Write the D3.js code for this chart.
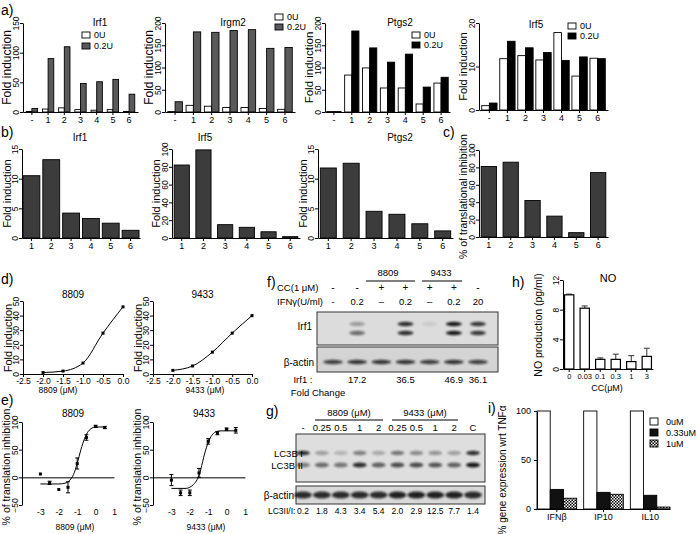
<!DOCTYPE html>
<html><head><meta charset="utf-8">
<script src="https://cdn.jsdelivr.net/npm/d3@7"></script>
<style>
body{margin:0;background:#fff;}
svg{font-family:"Liberation Sans",Arial,sans-serif;}
</style></head><body>
<svg id="c" width="700" height="534"></svg>
<script>
// ---------- DATA ----------
const aCats = ["-","1","2","3","4","5","6"];
const aSeries = ["0U","0.2U"];
const irf1_0U  = [1,5,7,4,3,4,1];
const irf1_02U = [6,90,110,48,51,55,30];
const irgm2_0U  = [1,15,13,10,10,8,6];
const irgm2_02U = [23,180,179,183,185,143,145];
const ptgs2_0U  = [1,83,99,54,54,18,65];
const ptgs2_02U = [1,182,144,112,130,56,78];
const irf5_0U  = [1,11.8,12.5,11.5,17.8,7.8,11.9];
const irf5_02U = [1.6,15.8,14.3,13.2,11.4,12.2,11.8];

const bCats = ["1","2","3","4","5","6"];
const bIrf1  = [10.5,13.2,4.2,3.3,2.5,1.3];
const bIrf5  = [82,99,15,12,7,1.5];
const bPtgs2 = [11.8,12.6,4.5,4.0,2.4,1.2];
const cInhib = [81,86,42,24,5,74];

const dDose  = [-2,-1.5,-1,-0.5,0];
const d8809  = [1,2,7.5,28,46];
const d9433  = [2.5,5.5,15,28,40];

const eDose    = [-3,-2.5,-2,-1.5,-1,-0.5,0,0.5];
const e8809    = [6,-10,-22,-18,25,72,92,90];
const e8809Err = [0,3,0,10,10,5,2,2];
const e9433    = [-5,-28,-28,8,65,80,87,85];
const e9433Err = [10,5,5,8,5,3,2,5];
const e8809FitX = [-3,-2,-1.6,-1.4,-1.2,-1.0,-0.8,-0.6,-0.4,-0.2,0,0.5];
const e8809FitY = [-12,-12,-10,-5,5,25,50,70,83,89,91,91];
const e9433FitX = [-3,-2.2,-2,-1.8,-1.6,-1.5,-1.4,-1.2,-1.0,-0.8,-0.6,-0.3,0.5];
const e9433FitY = [-20,-20,-18,-13,-4,3,15,42,63,76,82,84,84];

const fCC    = ["-","-","+","+","+","+","-"];
const fIFN   = ["-","0.2","–","0.2","–","0.2","20"];
const fFold  = ["","17.2","","36.5","","46.9","36.1"];
const fIrf1Upper = [0,0.3,0,0.85,0.08,0.95,0.8];
const fIrf1Lower = [0,0.55,0,0.85,0,0.95,0.8];
const fActin     = [0.75,0.8,0.8,0.8,0.75,0.8,0.75];

const gDose  = ["-","0.25","0.5","1","2","0.25","0.5","1","2","C"];
const gRatio = ["0.2","1.8","4.3","3.4","5.4","2.0","2.9","12.5","7.7","1.4"];
const gLC3I  = [0.85,0.3,0.2,0.45,0.25,0.5,0.4,0.35,0.3,0.85];
const gLC3II = [0.45,0.55,0.5,0.85,0.6,0.7,0.7,0.65,0.6,0.95];
const gActin = [0.85,0.85,0.85,0.85,0.85,0.9,0.9,0.9,0.9,0.85];

const hCats = ["0","0.03","0.1","0.3","1","3"];
const hNO   = [10,8.2,1.3,1.3,1.0,1.7];
const hErr  = [0.1,0.3,0.2,0.7,0.8,1.1];

const iCats = ["IFNβ","IP10","IL10"];
const iSeries = ["0uM","0.33uM","1uM"];
const i0uM   = [100,100,100];
const i033uM = [20,17,14];
const i1uM   = [11,15,2];

// ---------- SETUP ----------
const svg = d3.select("#c");
const defs = svg.append("defs");
const flt = defs.append("filter").attr("id","blur").attr("x","-50%").attr("y","-100%").attr("width","200%").attr("height","300%");
flt.append("feGaussianBlur").attr("stdDeviation",1.3);
const pat = defs.append("pattern").attr("id","chk").attr("width",3).attr("height",3).attr("patternUnits","userSpaceOnUse");
pat.append("rect").attr("width",3).attr("height",3).attr("fill","#fff");
pat.append("rect").attr("width",1.5).attr("height",1.5).attr("fill","#000");
pat.append("rect").attr("x",1.5).attr("y",1.5).attr("width",1.5).attr("height",1.5).attr("fill","#000");

const TICKFS = 8.5;

function txt(x,y,s,o={}){
  return svg.append("text").attr("x",x).attr("y",y).text(s)
    .attr("font-size",o.fs||10).attr("text-anchor",o.anchor||"start")
    .attr("fill","#000").attr("font-weight",o.fw||"normal");
}
function vlab(x,y,s,fs){
  return svg.append("text").attr("transform",`translate(${x},${y}) rotate(-90)`)
    .attr("text-anchor","middle").attr("font-size",fs||11).text(s);
}
function yAxis(y, ticks, x0, o={}){
  const ax = svg.append("g").attr("transform",`translate(${x0},0)`)
    .call(d3.axisLeft(y).tickValues(ticks).tickSize(3).tickSizeOuter(0).tickFormat(o.fmt||d3.format("")));
  ax.selectAll("path,line").attr("stroke","#000").attr("stroke-width",1);
  ax.selectAll("text").attr("font-size",o.fs||TICKFS).attr("fill","#000").attr("font-family","Liberation Sans, Arial");
  if(o.rot!==false) ax.selectAll("text").attr("transform","rotate(-90)").attr("x",0).attr("y",-4).attr("dy",0).attr("text-anchor","middle");
  return ax;
}
function xAxis(x, y0, o={}){
  const ax = svg.append("g").attr("transform",`translate(0,${y0})`)
    .call(d3.axisBottom(x).tickSize(3).tickPadding(2).tickSizeOuter(0));
  ax.selectAll("path,line").attr("stroke","#000").attr("stroke-width",1);
  ax.selectAll("text").attr("font-size",o.fs||TICKFS+0.5).attr("fill","#000").attr("font-family","Liberation Sans, Arial");
  return ax;
}

// grouped / single bar panel
function barPanel(o){
  const x = d3.scaleBand().domain(o.cats).range([o.x0,o.x1]).paddingInner(o.pi??0.3).paddingOuter(o.po??0.15);
  const y = d3.scaleLinear().domain([0,o.max]).range([o.y0,o.yTop]);
  const n = o.series.length;
  const bw = x.bandwidth()/n;
  o.series.forEach((s,si)=>{
    svg.append("g").selectAll("rect").data(s.vals).enter().append("rect")
      .attr("x",(d,i)=>x(o.cats[i])+si*bw).attr("y",d=>y(d))
      .attr("width",bw).attr("height",d=>o.y0-y(d))
      .attr("fill",s.fill).attr("stroke","#000").attr("stroke-width",0.9);
  });
  yAxis(y,o.ticks,o.x0,{rot:o.rot});
  xAxis(x,o.y0);
  if(o.title) txt(o.tx,o.ty,o.title,{anchor:"middle",fs:10});
  if(o.ylab) vlab(o.ylx,(o.y0+o.yTop)/2+(o.yloff||0),o.ylab,o.ylfs||11);
  if(o.legend){
    o.series.forEach((s,si)=>{
      svg.append("rect").attr("x",o.legend.x).attr("y",o.legend.y+si*o.legend.dy).attr("width",8).attr("height",6)
        .attr("fill",s.fill).attr("stroke","#000").attr("stroke-width",0.9);
      txt(o.legend.x+12,o.legend.y+si*o.legend.dy+6,s.name,{fs:9});
    });
  }
  return {x,y};
}

// ---------- PANEL LETTERS ----------
txt(1,15,"a)",{fs:14}); txt(1,137,"b)",{fs:14}); txt(443,137,"c)",{fs:14});
txt(1,284,"d)",{fs:14}); txt(1,405,"e)",{fs:14}); txt(267,287,"f)",{fs:14});
txt(266,416,"g)",{fs:14}); txt(512,287,"h)",{fs:14}); txt(488,413,"i)",{fs:14});

// ---------- PANEL a ----------
const GRAY="#5a5a5a";
barPanel({cats:aCats,x0:23,x1:138,y0:112,yTop:23,max:150,ticks:[0,50,100,150],
  series:[{name:aSeries[0],vals:irf1_0U,fill:"#fff"},{name:aSeries[1],vals:irf1_02U,fill:GRAY}],
  title:"Irf1",tx:100,ty:26,ylab:"Fold induction",ylx:11,ylfs:12,legend:{x:82,y:32,dy:11},pi:0.3,po:0.2});
barPanel({cats:aCats,x0:165,x1:295,y0:112,yTop:23,max:200,ticks:[0,50,100,150,200],
  series:[{name:aSeries[0],vals:irgm2_0U,fill:"#fff"},{name:aSeries[1],vals:irgm2_02U,fill:GRAY}],
  title:"Irgm2",tx:233,ty:26,ylab:"Fold induction",ylx:153,ylfs:12,legend:{x:275,y:14,dy:10},pi:0.2,po:0.15});
barPanel({cats:aCats,x0:325,x1:450,y0:112,yTop:23,max:200,ticks:[0,50,100,150,200],
  series:[{name:aSeries[0],vals:ptgs2_0U,fill:"#fff"},{name:aSeries[1],vals:ptgs2_02U,fill:"#000"}],
  title:"Ptgs2",tx:400,ty:26,ylab:"Fold induction",ylx:313,ylfs:11.5,legend:{x:412,y:32,dy:10},pi:0.2,po:0.1});
barPanel({cats:aCats,x0:479,x1:608,y0:110,yTop:23,max:20,ticks:[0,10,20],
  series:[{name:aSeries[0],vals:irf5_0U,fill:"#fff"},{name:aSeries[1],vals:irf5_02U,fill:"#000"}],
  title:"Irf5",tx:536,ty:28,ylab:"Fold induction",ylx:467,ylfs:11,legend:{x:568,y:23,dy:10},pi:0.15,po:0.15});

// ---------- PANEL b, c ----------
const DG="#3c3c3c";
barPanel({cats:bCats,x0:22,x1:140,y0:238,yTop:149,max:15,ticks:[0,5,10,15],
  series:[{vals:bIrf1,fill:DG}],title:"Irf1",tx:80,ty:141,ylab:"Fold induction",ylx:11,ylfs:11,pi:0.15,po:0.05});
barPanel({cats:bCats,x0:172,x1:300,y0:238,yTop:149,max:100,ticks:[0,20,40,60,80,100],
  series:[{vals:bIrf5,fill:DG}],title:"Irf5",tx:205,ty:141,ylab:"Fold induction",ylx:160,ylfs:11,pi:0.3,po:0.1});
barPanel({cats:bCats,x0:318,x1:453,y0:238,yTop:149,max:15,ticks:[0,5,10,15],
  series:[{vals:bPtgs2,fill:DG}],title:"Ptgs2",tx:400,ty:141,ylab:"Fold induction",ylx:307,ylfs:11,pi:0.3,po:0.1});
barPanel({cats:bCats,x0:479,x1:608,y0:237,yTop:150,max:100,ticks:[0,20,40,60,80,100],
  series:[{vals:cInhib,fill:DG}],ylab:"% of translational inhibition",ylx:467,ylfs:10.5,yloff:3,pi:0.3,po:0.1});

// ---------- PANEL d ----------
function dosePanel(o){
  const x = d3.scaleLinear().domain([-2.5,0]).range([o.x0,o.x1]);
  const y = d3.scaleLinear().domain([0,50]).range([374,301]);
  yAxis(y,[0,10,20,30,40,50],o.x0);
  const ax = svg.append("g").attr("transform","translate(0,374)")
    .call(d3.axisBottom(x).tickValues([-2.5,-2,-1.5,-1,-0.5,0]).tickFormat(d3.format(".1f")).tickSize(3).tickPadding(1).tickSizeOuter(0));
  ax.selectAll("path,line").attr("stroke","#000");
  ax.selectAll("text").attr("font-size",TICKFS).attr("fill","#000").text(d=>d3.format(".1f")(d).replace("−","-"));
  svg.append("path").datum(o.vals.map((v,i)=>[dDose[i],v]))
    .attr("d",d3.line().x(d=>x(d[0])).y(d=>y(d[1])).curve(d3.curveMonotoneX))
    .attr("fill","none").attr("stroke","#000").attr("stroke-width",1);
  svg.append("g").selectAll("rect").data(o.vals).enter().append("rect")
    .attr("x",(d,i)=>x(dDose[i])-1.5).attr("y",d=>y(d)-1.5).attr("width",3).attr("height",3).attr("fill","#000");
  txt((o.x0+o.x1)/2,298,o.title,{anchor:"middle",fs:10});
  txt(o.xl,393,o.title+" (μM)",{anchor:"middle",fs:8.5});
  vlab(o.ylx,338,"Fold induction",11);
}
dosePanel({x0:23,x1:123,vals:d8809,title:"8809",ylx:12,xl:58});
dosePanel({x0:153,x1:252,vals:d9433,title:"9433",ylx:142,xl:205});

// ---------- PANEL e ----------
function inhibPanel(o){
  const x = d3.scaleLinear().domain([-4,1]).range([o.x0,o.x0+92]);
  const y = d3.scaleLinear().domain([-50,100]).range([505,422]);
  yAxis(y,[-50,0,50,100],o.x0);
  const ax = svg.append("g").attr("transform",`translate(0,${y(0)})`)
    .call(d3.axisBottom(x).tickValues([-3,-2,-1,0,1]).tickSize(0).tickSizeOuter(0));
  ax.selectAll("path").attr("stroke","#000");
  ax.selectAll("text").attr("font-size",TICKFS).attr("fill","#000").attr("y",505-y(0)+4)
    .text(d=>String(d));
  svg.append("path").datum(o.fx.map((v,i)=>[v,o.fy[i]]))
    .attr("d",d3.line().x(d=>x(d[0])).y(d=>y(d[1])).curve(d3.curveMonotoneX))
    .attr("fill","none").attr("stroke","#000").attr("stroke-width",1);
  const g = svg.append("g");
  o.vals.forEach((v,i)=>{
    const cx = x(eDose[i]);
    if(o.err[i]>0){
      g.append("line").attr("x1",cx).attr("x2",cx).attr("y1",y(v-o.err[i])).attr("y2",y(v+o.err[i])).attr("stroke","#000");
      [v-o.err[i],v+o.err[i]].forEach(e=>g.append("line").attr("x1",cx-2).attr("x2",cx+2).attr("y1",y(e)).attr("y2",y(e)).attr("stroke","#000"));
    }
    g.append("rect").attr("x",cx-1.5).attr("y",y(v)-1.5).attr("width",3).attr("height",3).attr("fill","#000");
  });
  txt(o.x0+51,417,o.title,{anchor:"middle",fs:10});
  txt(o.x0+53,530,o.title+" (μM)",{anchor:"middle",fs:8.5});
  vlab(o.ylx,467,"% of translation inhibition",10.5);
}
inhibPanel({x0:22,vals:e8809,err:e8809Err,fx:e8809FitX,fy:e8809FitY,title:"8809",ylx:10});
inhibPanel({x0:153,vals:e9433,err:e9433Err,fx:e9433FitX,fy:e9433FitY,title:"9433",ylx:141});

// ---------- PANEL f (western blot) ----------
const fLanes = d3.scalePoint().domain(d3.range(7)).range([333,478]);
txt(388,276,"8809",{anchor:"middle",fs:9.5});
txt(441,276,"9433",{anchor:"middle",fs:9.5});
svg.append("line").attr("x1",366).attr("x2",415).attr("y1",281).attr("y2",281).attr("stroke","#000");
svg.append("line").attr("x1",422).attr("x2",462).attr("y1",281).attr("y2",281).attr("stroke","#000");
txt(277,291,"CC(1 μM)",{fs:9.5});
txt(277,305,"IFNγ(U/ml)",{fs:9.5});
fCC.forEach((s,i)=>txt(fLanes(i),291,s,{anchor:"middle",fs:10}));
fIFN.forEach((s,i)=>txt(fLanes(i),305,s,{anchor:"middle",fs:9.5}));
svg.append("rect").attr("x",317).attr("y",312).attr("width",181).attr("height",33).attr("fill","#dcdcdc").attr("stroke","#333");
svg.append("rect").attr("x",317).attr("y",347).attr("width",181).attr("height",25).attr("fill","#d4d4d4").attr("stroke","#333");
function bands(lanes, yPos, intens, rx, ry){
  svg.append("g").selectAll("ellipse").data(intens).enter().append("ellipse")
    .attr("cx",(d,i)=>lanes(i)).attr("cy",yPos).attr("rx",rx).attr("ry",ry)
    .attr("fill","#111").attr("opacity",d=>d).attr("filter","url(#blur)");
}
bands(fLanes,324,fIrf1Upper,8,2.2);
bands(fLanes,333,fIrf1Lower,8,2.2);
bands(fLanes,362,fActin,10,2.2);
txt(312,330,"Irf1",{anchor:"end",fs:10});
txt(314,366,"β-actin",{anchor:"end",fs:10});
txt(303,383,"Irf1 :",{anchor:"middle",fs:9.5});
txt(318,396,"Fold Change",{anchor:"middle",fs:9.5});
fFold.forEach((s,i)=>txt(fLanes(i),383,s,{anchor:"middle",fs:9.5}));

// ---------- PANEL g ----------
const gLanes = d3.scalePoint().domain(d3.range(10)).range([303,473]);
txt(349,416,"8809 (μM)",{anchor:"middle",fs:9.5});
txt(425,416,"9433 (μM)",{anchor:"middle",fs:9.5});
svg.append("line").attr("x1",315).attr("x2",383).attr("y1",420).attr("y2",420).attr("stroke","#000");
svg.append("line").attr("x1",392).attr("x2",458).attr("y1",420).attr("y2",420).attr("stroke","#000");
gDose.forEach((s,i)=>txt(gLanes(i),431,s,{anchor:"middle",fs:9.5}));
svg.append("rect").attr("x",296).attr("y",434).attr("width",189).attr("height",48).attr("fill","#dedede").attr("stroke","#333");
svg.append("rect").attr("x",296).attr("y",486).attr("width",189).attr("height",18).attr("fill","#d8d8d8").attr("stroke","#333");
bands(gLanes,453,gLC3I,7,2.2);
bands(gLanes,465,gLC3II,7,2.5);
bands(gLanes,495,gActin,9,3.5);
txt(303,457,"LC3B I",{anchor:"end",fs:9.5});
txt(303,469,"LC3B II",{anchor:"end",fs:9.5});
txt(294,499,"β-actin",{anchor:"end",fs:10});
txt(268,514,"LC3II/I:",{fs:8.5});
gRatio.forEach((s,i)=>txt(gLanes(i),514,s,{anchor:"middle",fs:8.5}));

// ---------- PANEL h ----------
{
  const x = d3.scaleBand().domain(hCats).range([563,653]).paddingInner(0.4).paddingOuter(0.1);
  const y = d3.scaleLinear().domain([0,12]).range([369,280]);
  const g = svg.append("g");
  hNO.forEach((v,i)=>{
    const cx = x(hCats[i])+x.bandwidth()/2;
    g.append("line").attr("x1",cx).attr("x2",cx).attr("y1",y(v)).attr("y2",y(v+hErr[i])).attr("stroke","#333");
    g.append("line").attr("x1",cx-3).attr("x2",cx+3).attr("y1",y(v+hErr[i])).attr("y2",y(v+hErr[i])).attr("stroke","#333");
  });
  g.selectAll("rect").data(hNO).enter().append("rect")
    .attr("x",(d,i)=>x(hCats[i])).attr("y",d=>y(d)).attr("width",x.bandwidth()).attr("height",d=>369-y(d))
    .attr("fill","#fff").attr("stroke","#000").attr("stroke-width",1.2);
  yAxis(y,[0,4,8,12],563);
  const ax = xAxis(x,369,{fs:7.5});
  txt(608,282,"NO",{anchor:"middle",fs:11});
  txt(607,391,"CC(μM)",{anchor:"middle",fs:9});
  vlab(542,325,"NO production (pg/ml)",10.5);
}

// ---------- PANEL i ----------
{
  const x = d3.scaleBand().domain(iCats).range([537,670]).paddingInner(0.15).paddingOuter(0.0);
  const y = d3.scaleLinear().domain([0,100]).range([509,411]);
  const fills = ["#fff","#111","url(#chk)"];
  const ser = [i0uM,i033uM,i1uM];
  const bw = x.bandwidth()/3;
  ser.forEach((s,si)=>{
    svg.append("g").selectAll("rect").data(s).enter().append("rect")
      .attr("x",(d,i)=>x(iCats[i])+si*bw).attr("y",d=>y(d)).attr("width",bw).attr("height",d=>509-y(d))
      .attr("fill",fills[si]).attr("stroke","#000").attr("stroke-width",0.9);
  });
  yAxis(y,[0,50,100],537,{rot:false,fs:9});
  xAxis(x,509,{fs:9});
  iSeries.forEach((s,si)=>{
    svg.append("rect").attr("x",650).attr("y",418+si*11).attr("width",8).attr("height",7)
      .attr("fill",fills[si]).attr("stroke","#000").attr("stroke-width",0.9);
    txt(666,425+si*11,s,{fs:9});
  });
  vlab(506,470,"% gene expression wrt TNFα",10);
}
</script>
</body></html>
